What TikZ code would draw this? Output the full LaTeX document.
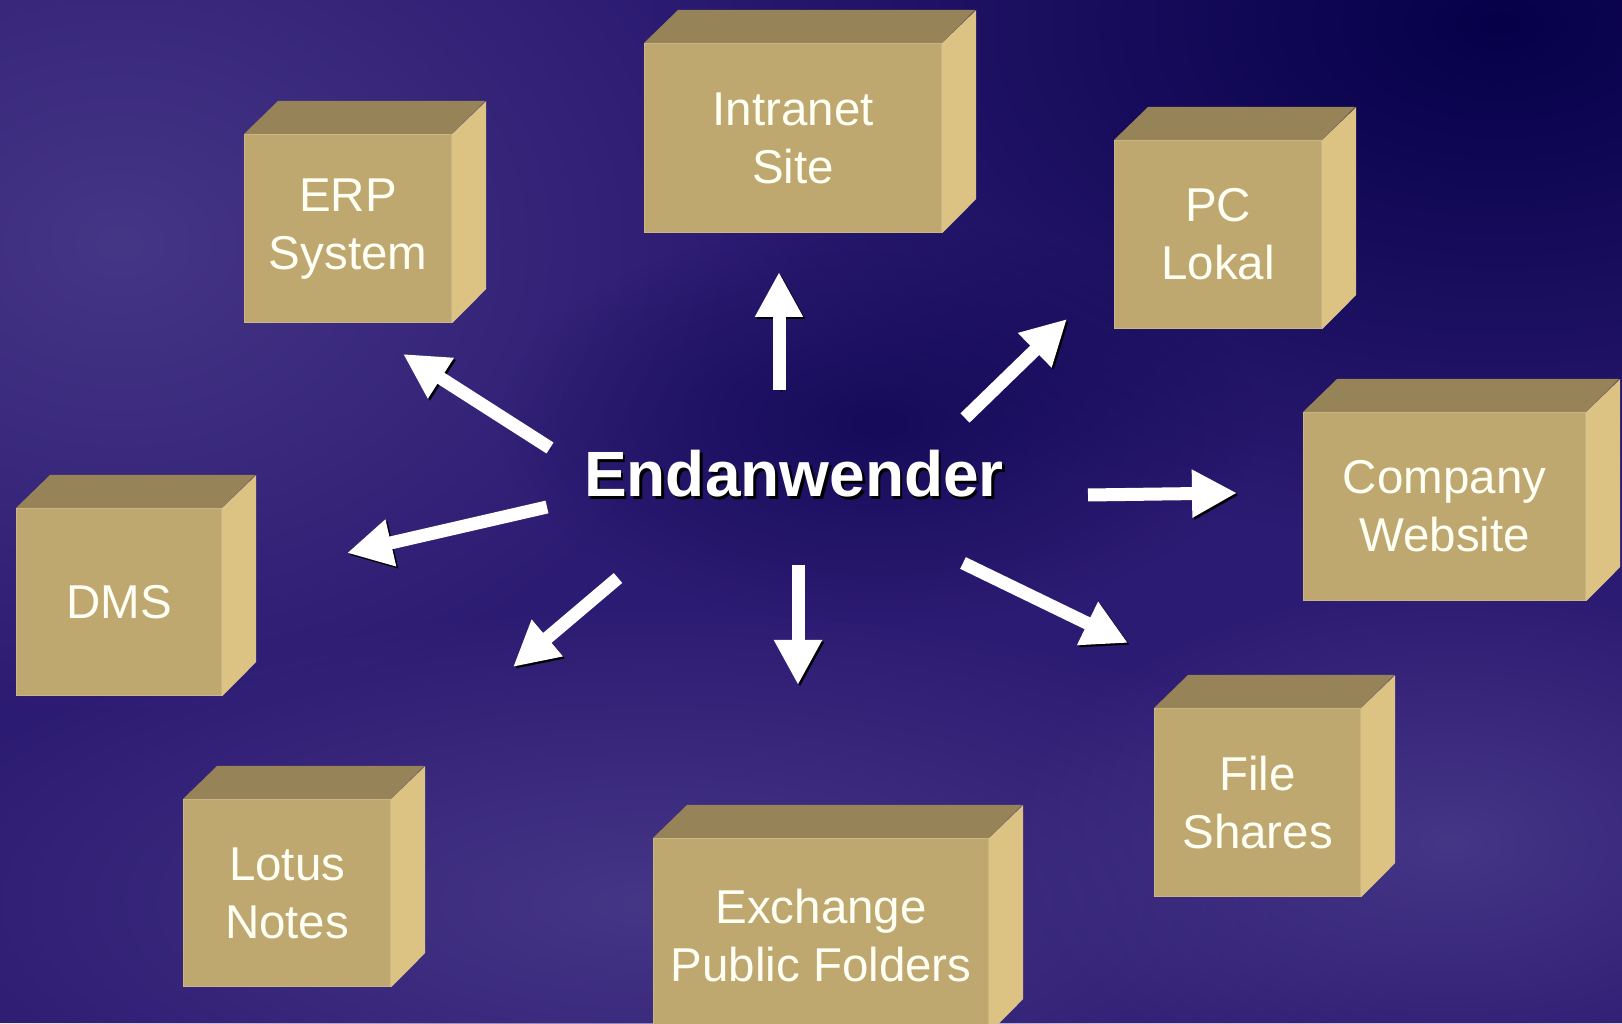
\documentclass[tikz,border=0pt]{standalone}
\usepackage{fontspec}
\setmainfont{Liberation Sans}
\usetikzlibrary{arrows.meta, fadings}
\definecolor{crate}{HTML}{BFA870}
\definecolor{cratetop}{HTML}{968357}
\definecolor{crateside}{HTML}{DCC384}
\definecolor{bgbase}{HTML}{2C1B72}
\definecolor{bgnavy}{HTML}{060049}
\definecolor{bglight}{HTML}{463686}
\definecolor{label}{HTML}{FFFFF4}
\tikzfading[name=glow, inner color=transparent!0, outer color=transparent!100]

\begin{document}
\begin{tikzpicture}[x=1pt, y=1pt,
    crate/.style={draw=crate!85!white, line width=1.2pt, fill=crate, text=label,
        anchor=north west, inner sep=0pt, align=center,
        font=\fontsize{47.5}{58}\selectfont},
    pointer/.style={-{Triangle[length=45pt, width=45pt]}, line width=13pt, white,
        preaction={draw=black, transform canvas={shift={(2pt,-2pt)}}}}]
    \useasboundingbox (0,0) rectangle (1622,1023);
    \begin{scope}
        \clip (0,0) rectangle (1622,1023);
        % background
        \fill[bgbase] (0,0) rectangle (1622,1023);
        \fill[bglight, path fading=glow] (120,780) ellipse (620 and 480);
        \fill[bglight, path fading=glow] (650,120) ellipse (800 and 300);
        \fill[bglight, path fading=glow] (1450,180) ellipse (450 and 260);
        \fill[bgnavy, path fading=glow] (1500,1000) ellipse (850 and 520);
        \fill[bgnavy, opacity=.6, path fading=glow] (880,600) ellipse (380 and 200);

        % boxes
        \foreach \name/\x/\y/\w/\h/\txt in {
                erp/244/889/207/188/{ERP\\System},
                intranet/644/980/297/189/{Intranet\\Site},
                pc/1114/883/207/188/{PC\\Lokal},
                web/1303/611/282/188/{Company\\Website},
                dms/16/515/205/187/{DMS},
                lotus/183/224/207/187/{Lotus\\Notes},
                exchange/653/185/335/194/{Exchange\\Public Folders},
                files/1154/315/206/188/{File\\Shares}} {
            \node[crate, minimum width=\w, minimum height=\h] (\name) at (\x,\y) {\txt};
            \fill[cratetop] (\name.north west) -- ++(34,33) -- ++(\w,0)
                -- (\name.north east) -- cycle;
            \fill[crateside] (\name.north east) -- ++(34,33) -- ++(0,-\h)
                -- (\name.south east) -- cycle;
        }

        % centre
        \node[text=black, font=\bfseries\fontsize{64}{70}\selectfont] (user-shadow) at (796.5,546.5) {Endanwender};
        \node[text=white, font=\bfseries\fontsize{64}{70}\selectfont] (user) at (794,549) {Endanwender};

        % arrows
        \foreach \name/\tx/\ty/\hx/\hy in {
                erp/550/575/403/669, dms/547/516/347/470,
                intranet/779/633/779/751, pc/965/605/1067/704,
                web/1088/528/1237/530, files/963/460/1128/380,
                lotus/618/445/513/356, exchange/798/458/798/338} {
            \coordinate (\name-from) at (\tx,\ty);
            \coordinate (\name-to) at (\hx,\hy);
            \draw[pointer] (\name-from) -- (\name-to);
        }
    \end{scope}
\end{tikzpicture}
\end{document}
